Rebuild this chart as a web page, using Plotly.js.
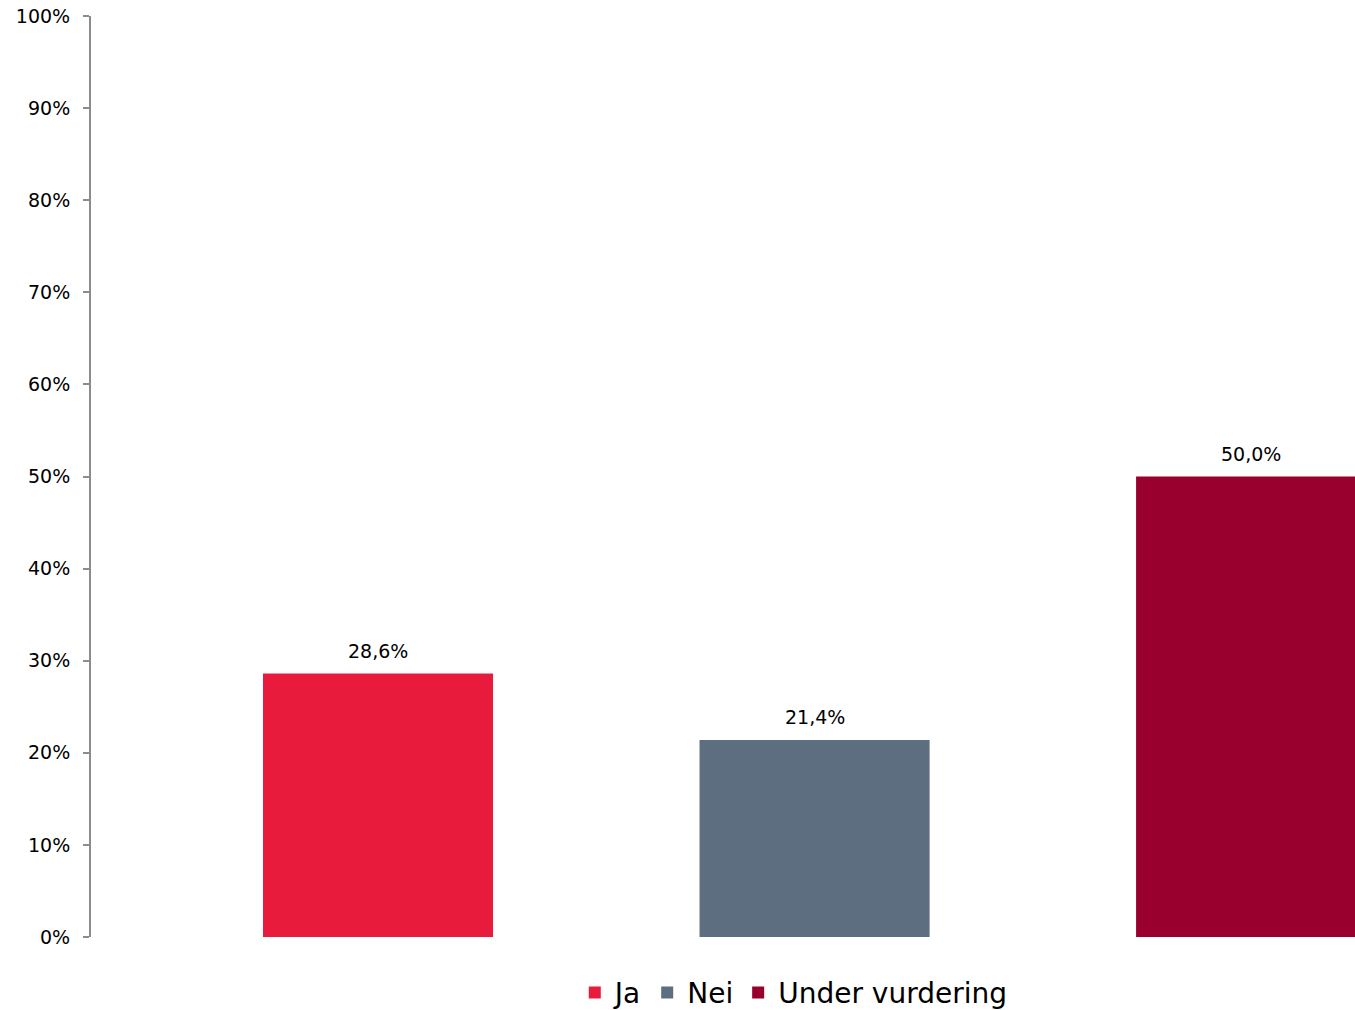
<!DOCTYPE html>
<html>
<head>
<meta charset="utf-8">
<script src="https://cdn.plot.ly/plotly-3.0.1.min.js"></script>
<style>html,body{margin:0;padding:0;background:#fff;}#chart{width:1355px;height:1010px;}</style>
</head>
<body>
<div id="chart"></div>
<script>
const categories = ["Ja", "Nei", "Under vurdering"];
const values = [0.286, 0.214, 0.5];
const labels = ["28,6%", "21,4%", "50,0%"];
const colors = ["#E81B3C", "#5C6E80", "#99002E"];
const yTickVals = [0, 0.1, 0.2, 0.3, 0.4, 0.5, 0.6, 0.7, 0.8, 0.9, 1.0];
const yTickText = ["0%", "10%", "20%", "30%", "40%", "50%", "60%", "70%", "80%", "90%", "100%"];

const font = "DejaVu Sans, Verdana, sans-serif";

const traces = categories.map((c, i) => ({
  type: "bar",
  name: c,
  x: [c],
  y: [values[i]],
  width: 0.527,
  marker: {color: colors[i]},
  hoverinfo: "skip"
}));

const annotations = categories.map((c, i) => ({
  x: c,
  y: values[i],
  xref: "x",
  yref: "y",
  text: labels[i],
  showarrow: false,
  xanchor: "center",
  yanchor: "bottom",
  yshift: 10,
  font: {family: font, size: 19, color: "#000"}
}));

const layout = {
  width: 1355,
  height: 1010,
  margin: {l: 91, r: 0, t: 16, b: 73},
  paper_bgcolor: "#fff",
  plot_bgcolor: "#fff",
  barmode: "overlay",
  showlegend: true,
  font: {family: font, color: "#000"},
  annotations: annotations,
  xaxis: {
    type: "category",
    categoryorder: "array",
    categoryarray: categories,
    range: [-0.6575, 2.238],
    showticklabels: false,
    showline: false,
    showgrid: false,
    zeroline: false,
    ticks: ""
  },
  yaxis: {
    range: [0, 1],
    tickvals: yTickVals,
    ticktext: yTickText,
    showline: true,
    linecolor: "#8c8c8c",
    linewidth: 2,
    ticks: "outside",
    ticklen: 6,
    tickwidth: 2,
    tickcolor: "#8c8c8c",
    ticklabelstandoff: 9,
    showgrid: false,
    zeroline: false,
    tickfont: {family: font, size: 19, color: "#000"}
  },
  legend: {
    orientation: "h",
    x: 0.556,
    xanchor: "center",
    yref: "container",
    y: 0.017,
    yanchor: "middle",
    font: {family: font, size: 28, color: "#000"},
    itemwidth: 30,
    traceorder: "normal"
  }
};

Plotly.newPlot("chart", traces, layout, {displayModeBar: false, staticPlot: true});
</script>
</body>
</html>
